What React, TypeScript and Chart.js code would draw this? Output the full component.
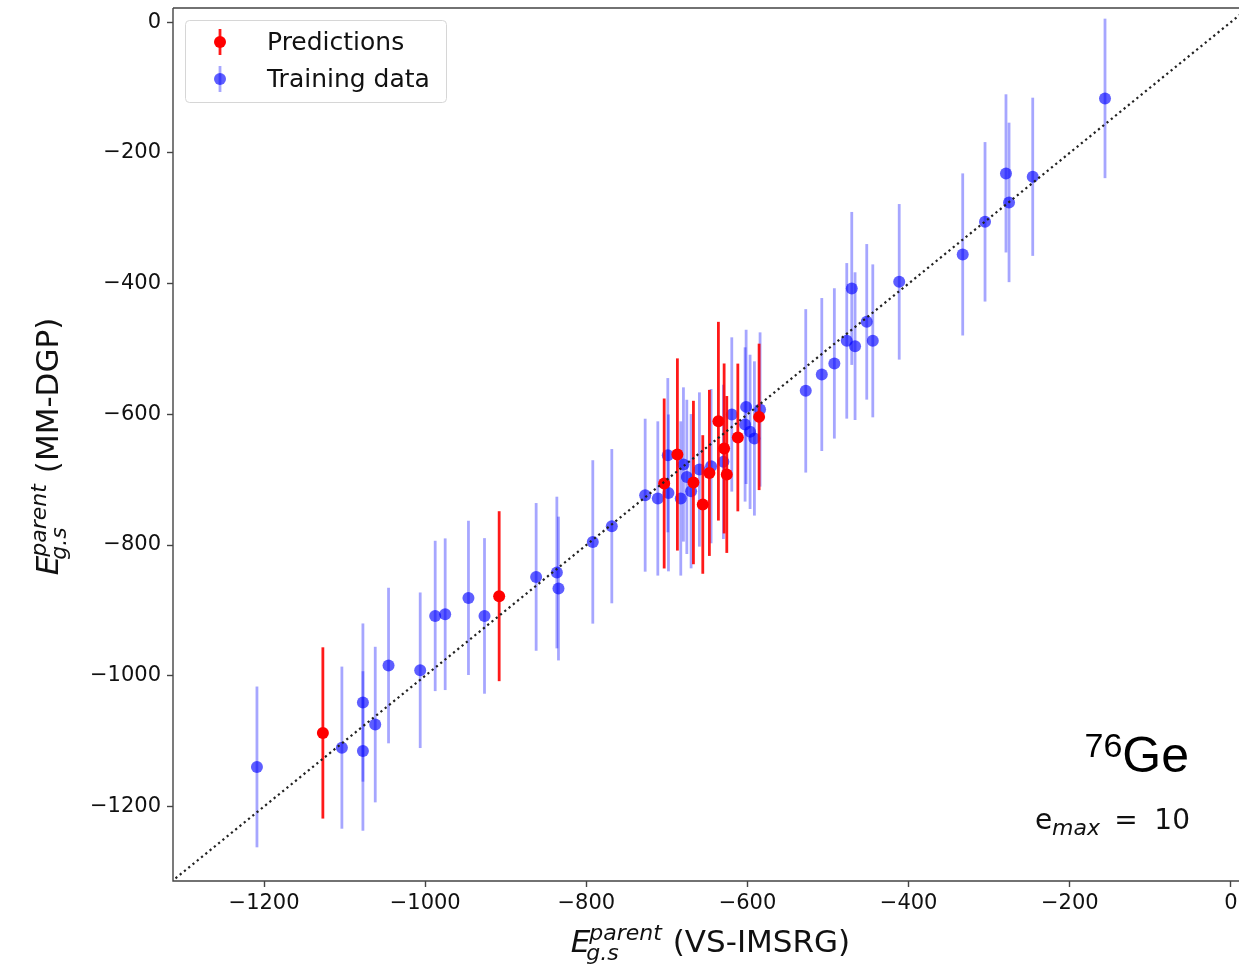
import React, { useEffect, useRef } from 'react';
import { Chart, registerables } from 'chart.js';

Chart.register(...registerables);

// ---- Data ----
const trainX = [
  -1208.8, -1103.4, -1077.3, -1077.3, -1062.0, -1045.5, -1006.2, -987.6, -975.2, -946.3,
  -926.4, -862.3, -836.6, -834.6, -792.0, -768.4, -727.0, -711.3, -698.1, -698.9,
  -682.8, -679.5, -675.3, -670.0, -659.7, -645.2, -629.9, -619.5, -603.0, -601.7,
  -596.8, -591.4, -584.4, -527.7, -507.8, -492.2, -476.8, -470.6, -466.5, -452.0,
  -444.5, -411.7, -332.9, -305.2, -279.2, -275.4, -246.0, -156.3,
];
const trainY = [
  -1139.5, -1110.0, -1041.0, -1115.1, -1074.7, -984.4, -991.6, -908.5, -905.9, -880.9,
  -908.5, -848.8, -842.1, -866.6, -795.3, -771.2, -723.8, -728.8, -720.3, -662.6,
  -728.8, -676.8, -695.8, -717.7, -684.5, -679.4, -672.8, -600.3, -615.6, -588.7,
  -626.9, -637.0, -592.7, -564.2, -539.2, -522.2, -487.7, -407.5, -495.8, -458.6,
  -487.7, -397.4, -355.5, -305.6, -231.5, -275.9, -236.7, -116.8,
];
const trainErr = [
  123, 124, 121, 122, 119, 119, 119, 115, 116, 118,
  119, 113, 116, 110, 125, 118, 117, 118, 120, 118,
  118, 118, 118, 118, 118, 118, 118, 118, 118, 118,
  118, 118, 118, 125, 117, 115, 119, 117, 113, 119,
  117, 119, 124, 122, 121, 122, 121, 122,
];

const predX = [-1127.0, -908.2, -703.4, -687.0, -667.1, -655.5, -647.3, -636.1, -629.0, -625.7, -612.0, -585.6];
const predY = [-1087.5, -878.3, -705.9, -661.5, -704.4, -738.0, -689.7, -610.6, -652.3, -692.1, -635.5, -604.0];
const predErr = [131, 130, 130, 147, 125, 106, 127, 152, 130, 120, 113, 112];

const xTicks = [-1200, -1000, -800, -600, -400, -200, 0];
const yTicks = [-1200, -1000, -800, -600, -400, -200, 0];

const X_MIN = -1313;
const X_MAX = 10;
const Y_MIN = -1314;
const Y_MAX = 21.5;
const diagEnds = [-1400, 100];

const FONT = "'DejaVu Sans', sans-serif";
const BLUE_PT = 'rgba(0,0,255,0.63)';
const BLUE_BAR = 'rgba(0,0,255,0.35)';
const RED_PT = 'rgb(255,0,0)';
const RED_BAR = 'rgba(255,0,0,0.9)';

const fmt = (v: number) => (v < 0 ? '\u2212' + Math.abs(v) : String(v));

// Pin the plot area to the same box as the reference
const areaPlugin = {
  id: 'area',
  afterLayout(chart: any) {
    const ca = chart.chartArea;
    ca.left = 173;
    ca.right = 1239;
    ca.top = 8;
    ca.bottom = 881;
    ca.width = ca.right - ca.left;
    ca.height = ca.bottom - ca.top;
    const xs = chart.scales.x;
    xs.left = ca.left;
    xs.right = ca.right;
    xs.width = ca.width;
    xs.top = ca.bottom;
    xs.bottom = chart.height;
    xs.height = xs.bottom - xs.top;
    xs.configure();
    const ys = chart.scales.y;
    ys.top = ca.top;
    ys.bottom = ca.bottom;
    ys.height = ca.height;
    ys.left = 0;
    ys.right = ca.left;
    ys.width = ca.left;
    ys.configure();
  },
};

const errorBarPlugin = {
  id: 'errbars',
  beforeDatasetDraw(chart: any, args: any) {
    const ds = chart.data.datasets[args.index];
    if (!ds.errors) return;
    const { ctx, chartArea } = chart;
    const xs = chart.scales.x;
    const ys = chart.scales.y;
    ctx.save();
    ctx.beginPath();
    ctx.rect(chartArea.left, chartArea.top, chartArea.right - chartArea.left, chartArea.bottom - chartArea.top);
    ctx.clip();
    ctx.strokeStyle = ds.errorColor;
    ctx.lineWidth = 2.8;
    ctx.lineCap = 'butt';
    ds.data.forEach((p: any, i: number) => {
      const e = ds.errors[i];
      const px = xs.getPixelForValue(p.x);
      ctx.beginPath();
      ctx.moveTo(px, ys.getPixelForValue(p.y - e));
      ctx.lineTo(px, ys.getPixelForValue(p.y + e));
      ctx.stroke();
    });
    ctx.restore();
  },
};

function drawMathLabel(ctx: CanvasRenderingContext2D, cx: number, baseline: number, tail: string) {
  const big = 31;
  const small = 22;
  ctx.font = `italic ${big}px ${FONT}`;
  const eW = ctx.measureText('E').width;
  ctx.font = `italic ${small}px ${FONT}`;
  const supW = ctx.measureText('parent').width;
  const subW = ctx.measureText('g.s').width;
  ctx.font = `${big}px ${FONT}`;
  const spaceW = ctx.measureText(' ').width;
  const tailW = ctx.measureText(tail).width;
  const total = eW + Math.max(supW, subW) + spaceW + tailW;
  let x = cx - total / 2;
  ctx.textAlign = 'left';
  ctx.textBaseline = 'alphabetic';
  ctx.font = `italic ${big}px ${FONT}`;
  ctx.fillText('E', x, baseline);
  const sx = x + eW;
  ctx.font = `italic ${small}px ${FONT}`;
  ctx.fillText('parent', sx - 1, baseline - 12);
  ctx.fillText('g.s', sx - 4, baseline + 8);
  x = sx + Math.max(supW, subW) + spaceW;
  ctx.font = `${big}px ${FONT}`;
  ctx.fillText(tail, x, baseline);
}

const decorPlugin = {
  id: 'decor',
  afterDatasetsDraw(chart: any) {
    const { ctx, chartArea } = chart;
    const { left, top, bottom } = chartArea;
    const w = chart.width;
    ctx.save();
    ctx.strokeStyle = '#444';
    ctx.lineWidth = 1.4;
    ctx.beginPath();
    ctx.moveTo(left, top);
    ctx.lineTo(w, top);
    ctx.moveTo(left, top);
    ctx.lineTo(left, bottom);
    ctx.lineTo(w, bottom);
    ctx.stroke();
    ctx.restore();
  },
  afterDraw(chart: any) {
    const { ctx, chartArea } = chart;
    ctx.save();
    ctx.fillStyle = '#111';
    // axis titles
    const xs = chart.scales.x;
    const cxTitle = (xs.getPixelForValue(X_MIN) + xs.getPixelForValue(21)) / 2;
    drawMathLabel(ctx, cxTitle, 952, '(VS-IMSRG)');
    ctx.save();
    ctx.translate(58, (chartArea.top + chartArea.bottom) / 2 + 2);
    ctx.rotate(-Math.PI / 2);
    drawMathLabel(ctx, 0, 0, '(MM-DGP)');
    ctx.restore();

    // legend
    const bx = 185.5, by = 20.5, bw = 261, bh = 82;
    ctx.beginPath();
    (ctx as any).roundRect(bx, by, bw, bh, 4);
    ctx.fillStyle = 'rgba(255,255,255,0.8)';
    ctx.fill();
    ctx.strokeStyle = '#d6d6d6';
    ctx.lineWidth = 1;
    ctx.stroke();
    const entries = [
      { label: 'Predictions', y: 42, bar: RED_BAR, pt: RED_PT },
      { label: 'Training data', y: 79, bar: BLUE_BAR, pt: BLUE_PT },
    ];
    entries.forEach((e) => {
      ctx.strokeStyle = e.bar;
      ctx.lineWidth = 2.8;
      ctx.beginPath();
      ctx.moveTo(220, e.y - 13);
      ctx.lineTo(220, e.y + 13);
      ctx.stroke();
      ctx.fillStyle = e.pt;
      ctx.beginPath();
      ctx.arc(220, e.y, 6, 0, Math.PI * 2);
      ctx.fill();
      ctx.fillStyle = '#111';
      ctx.font = `25px ${FONT}`;
      ctx.textAlign = 'left';
      ctx.textBaseline = 'middle';
      ctx.fillText(e.label, 267, e.y + 1);
    });

    // annotations
    ctx.fillStyle = '#000';
    ctx.textBaseline = 'alphabetic';
    ctx.textAlign = 'right';
    ctx.font = `50px 'Liberation Sans', Arial, sans-serif`;
    ctx.fillText('Ge', 1189, 772);
    const geW = ctx.measureText('Ge').width;
    ctx.font = `34px 'Liberation Sans', Arial, sans-serif`;
    ctx.fillText('76', 1189 - geW, 757);

    ctx.fillStyle = '#111';
    ctx.textAlign = 'left';
    ctx.font = `28px ${FONT}`;
    ctx.fillText('e', 1035, 829);
    ctx.font = `italic 22px ${FONT}`;
    ctx.fillText('max', 1052, 835);
    ctx.font = `28px ${FONT}`;
    ctx.textAlign = 'center';
    ctx.fillText('=', 1126, 829);
    ctx.textAlign = 'right';
    ctx.fillText('10', 1190, 829);
    ctx.restore();
  },
};

export default function App() {
  const ref = useRef<HTMLCanvasElement | null>(null);
  useEffect(() => {
    if (!ref.current) return;
    const chart = new Chart(ref.current, {
      type: 'scatter',
      data: {
        datasets: [
          {
            label: 'diag',
            data: diagEnds.map((v) => ({ x: v, y: v })),
            showLine: true,
            borderColor: '#222',
            borderWidth: 2.2,
            borderDash: [2.2, 3.3],
            pointRadius: 0,
            fill: false,
          } as any,
          {
            label: 'Predictions',
            data: predX.map((x, i) => ({ x, y: predY[i] })),
            errors: predErr,
            errorColor: RED_BAR,
            backgroundColor: RED_PT,
            borderWidth: 0,
            pointRadius: 6,
          } as any,
          {
            label: 'Training data',
            data: trainX.map((x, i) => ({ x, y: trainY[i] })),
            errors: trainErr,
            errorColor: BLUE_BAR,
            backgroundColor: BLUE_PT,
            borderWidth: 0,
            pointRadius: 6,
          } as any,
        ],
      },
      options: {
        animation: false,
        responsive: false,
        events: [],
        layout: { padding: { top: 8, right: 0, left: 0, bottom: 0 } },
        plugins: { legend: { display: false }, tooltip: { enabled: false }, title: { display: false } },
        scales: {
          x: {
            type: 'linear',
            min: X_MIN,
            max: X_MAX,
            afterBuildTicks: (s: any) => {
              s.ticks = xTicks.map((v) => ({ value: v }));
            },
            afterFit: (s: any) => {
              s.height = 85;
              s.paddingLeft = 0;
              s.paddingRight = 0;
            },
            ticks: {
              font: { family: FONT, size: 21 },
              color: '#111',
              padding: 4,
              maxRotation: 0,
              autoSkip: false,
              callback: (v: any) => fmt(Number(v)),
            },
            grid: { display: true, drawOnChartArea: false, drawTicks: true, tickLength: 6, tickColor: '#444', tickWidth: 1.4 },
            border: { display: false },
          },
          y: {
            type: 'linear',
            min: Y_MIN,
            max: Y_MAX,
            afterBuildTicks: (s: any) => {
              s.ticks = yTicks.map((v) => ({ value: v }));
            },
            afterFit: (s: any) => {
              s.width = 173;
              s.paddingTop = 0;
              s.paddingBottom = 0;
            },
            ticks: {
              font: { family: FONT, size: 21 },
              color: '#111',
              padding: 6,
              autoSkip: false,
              callback: (v: any) => fmt(Number(v)),
            },
            grid: { display: true, drawOnChartArea: false, drawTicks: true, tickLength: 6, tickColor: '#444', tickWidth: 1.4 },
            border: { display: false },
          },
        },
      } as any,
      plugins: [areaPlugin, errorBarPlugin, decorPlugin],
    });
    return () => chart.destroy();
  }, []);
  return (
    <div style={{ position: 'absolute', left: 0, top: 0, width: 1239, height: 966, background: '#fff' }}>
      <canvas ref={ref} width={1239} height={966} />
    </div>
  );
}
